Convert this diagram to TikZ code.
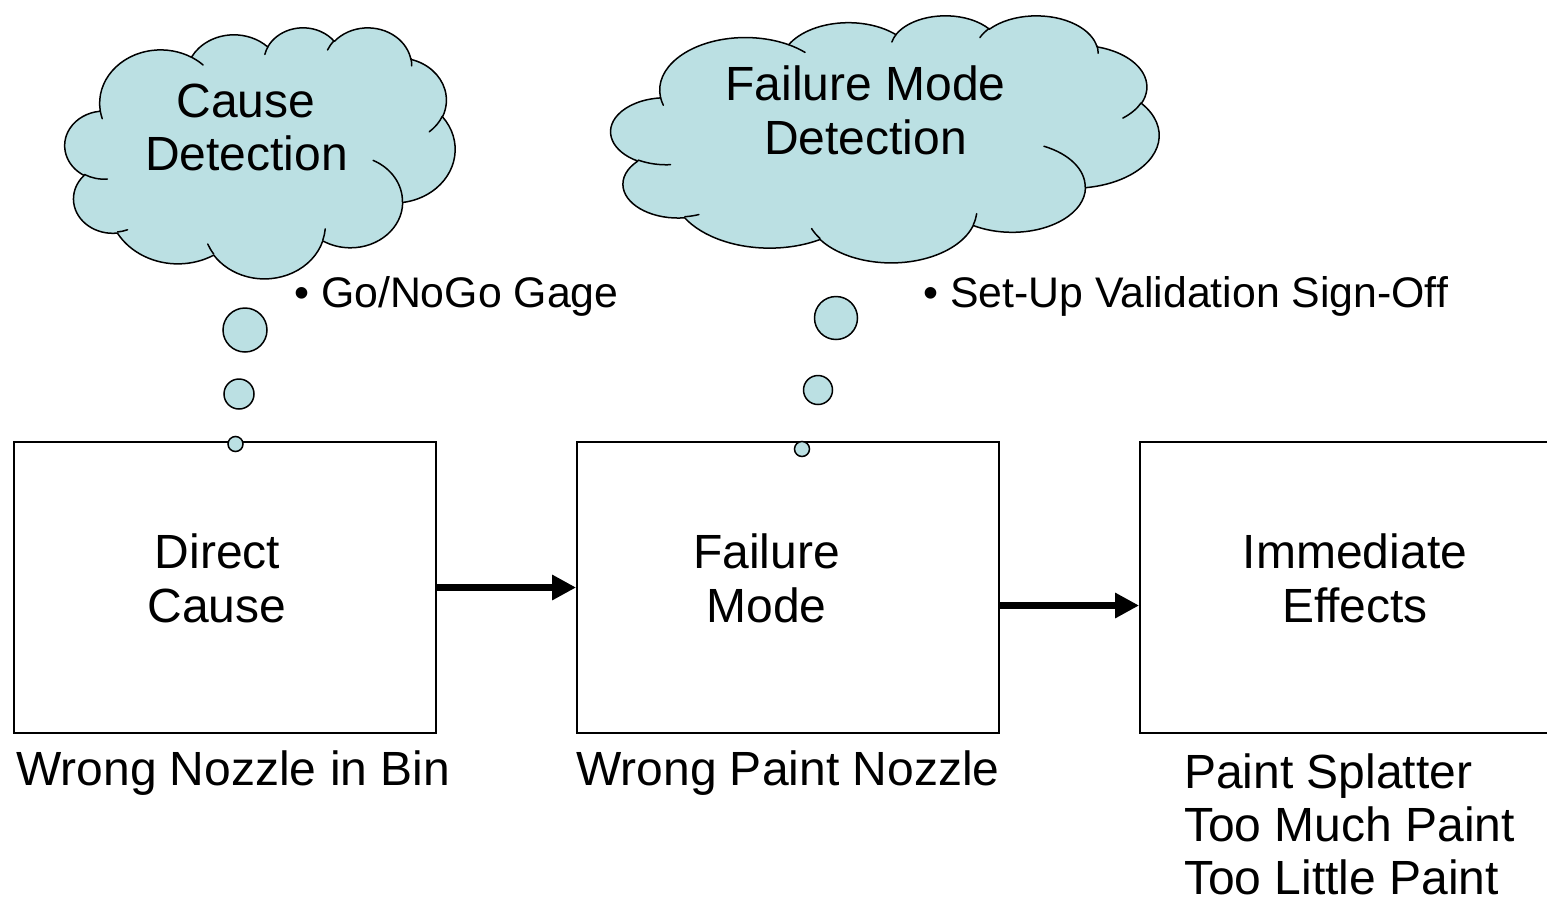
\documentclass[tikz,border=0pt]{standalone}
\usepackage{fontspec}
\setmainfont{Liberation Sans}
\usetikzlibrary{arrows.meta}
\definecolor{cloudfill}{RGB}{187,224,227}
% convert a DrawingML arcTo (geometric angles) into a TikZ arc (parametric angles)
\newcommand\ppcalc[4]{%
  \pgfmathsetmacro\ppTs{atan2((#1)*sin(#3),(#2)*cos(#3))}%
  \pgfmathsetmacro\ppTe{atan2((#1)*sin((#3)+(#4)),(#2)*cos((#3)+(#4)))}%
  \pgfmathsetmacro\ppTd{mod(\ppTe-\ppTs+720,360)}%
}
\newcommand\parc[4]{\pgfextra{\ppcalc{#1}{#2}{#3}{#4}} arc[x radius=#1, y radius=#2, start angle=\ppTs, delta angle=\ppTd]}
\newcommand\cloudouterpath{(39.00,143.70)
  \parc{67.53}{91.90}{-190.4875}{123.7805}
  \parc{53.33}{72.67}{-144.1024}{89.9452}
  \parc{43.65}{59.45}{-145.8079}{99.7230}
  \parc{48.57}{65.95}{-130.9861}{117.2417}
  \parc{53.33}{72.73}{-78.7089}{109.0269}
  \parc{67.75}{92.20}{-46.2673}{130.2690}
  \parc{57.85}{78.67}{0.6250}{114.0333}
  \parc{67.52}{92.15}{22.4516}{115.1726}
  \parc{77.20}{105.43}{66.2426}{75.7110}
  \parc{43.60}{59.18}{-274.9421}{146.7356}
  \parc{43.45}{59.45}{-246.8285}{152.5189}
  -- cycle}
\newcommand\cloudinnerpath{
  (46.93,261.77) \parc{43.45}{59.45}{86.7420}{26.4295}
  (69.28,348.99) \parc{43.60}{59.18}{73.6105}{11.4475}
  (164.78,390.90) \parc{67.52}{92.15}{137.6242}{14.0811}
  (288.27,347.51) \parc{67.52}{92.15}{6.4533}{15.9984}
  (341.29,229.54) \parc{57.85}{78.67}{-70.2924}{70.9174}
  (417.98,153.54) \parc{53.33}{72.73}{30.3180}{27.7515}
  (383.24,54.26) \parc{48.57}{65.95}{-13.7443}{14.8589}
  (290.78,39.52) \parc{48.57}{65.95}{-149.1815}{18.1954}
  (221.41,47.20) \parc{43.65}{59.45}{-163.4943}{17.6864}
  (140.00,51.92) \parc{67.53}{91.90}{-66.7070}{12.3194}
  (41.27,157.89) \parc{67.53}{91.90}{157.6544}{11.8582}}
\begin{document}
\begin{tikzpicture}[x=1pt,y=-1pt,
  cloudbody/.style={fill=cloudfill,draw=black,line width=1.5pt,line join=round},
  cloudline/.style={draw=black,line width=1.5pt,line cap=round},
  bubble/.style={circle,fill=cloudfill,draw=black,line width=1.5pt,inner sep=0pt},
  boxsty/.style={draw=black,line width=1.8pt,minimum width=422pt,minimum height=291pt,inner sep=0pt},
  bigtxt/.style={font=\fontsize{48}{55}\selectfont,inner sep=0pt,anchor=base},
  bigleft/.style={font=\fontsize{48}{55}\selectfont,inner sep=0pt,anchor=base west},
  bullettxt/.style={font=\fontsize{42.8}{50}\selectfont,inner sep=0pt,anchor=base west},
  flowarrow/.style={line width=7pt,-{Triangle[length=24pt,width=24pt]}}]
\useasboundingbox (0,0) rectangle (1547,900);
\clip (0,0) rectangle (1547,900);

% boxes
\node[boxsty] (cause) at (225,587.5) {};
\node[boxsty] (mode) at (788,587.5) {};
\node[boxsty] (effect) at (1351,587.5) {};

% box texts
\node[bigtxt] (t1a) at (217.5,568) {Direct};
\node[bigtxt] (t1b) at (217,622) {Cause};
\node[bigtxt] (t2a) at (766.5,568) {Failure};
\node[bigtxt] (t2b) at (766.5,622) {Mode};
\node[bigtxt] (t3a) at (1355,568) {Immediate};
\node[bigtxt] (t3b) at (1355,622) {Effects};

% labels under boxes
\node[bigleft] (l1) at (16,785) {Wrong Nozzle in Bin};
\node[bigleft] (l2) at (576,785) {Wrong Paint Nozzle};
\node[bigleft] (l3a) at (1184,788) {Paint Splatter};
\node[bigleft] (l3b) at (1184,841) {Too Much Paint};
\node[bigleft] (l3c) at (1184,894) {Too Little Paint};

% arrows
\draw[flowarrow] (cause.east) -- (mode.west);
\draw[flowarrow] ([yshift=-18pt]mode.east) -- ([yshift=-18pt]effect.west);

% cloud 1
\begin{scope}[shift={(65,27)},xscale=0.9028,yscale=0.5810]
  \draw[cloudbody] \cloudouterpath;
  \draw[cloudline] \cloudinnerpath;
\end{scope}
\node[bigtxt] (c1a) at (246,117) {Cause};
\node[bigtxt] (c1b) at (246.5,170) {Detection};
\node[bubble,minimum size=44pt] (b1a) at (245,330) {};
\node[bubble,minimum size=30pt] (b1b) at (239,394) {};
\node[bubble,minimum size=15pt] (b1c) at (235.5,444) {};

% cloud 2
\begin{scope}[shift={(611,15)},xscale=1.2685,yscale=0.5718]
  \draw[cloudbody] \cloudouterpath;
  \draw[cloudline] \cloudinnerpath;
\end{scope}
\node[bigtxt] (c2a) at (865.5,100) {Failure Mode};
\node[bigtxt] (c2b) at (865.5,154) {Detection};
\node[bubble,minimum size=43pt] (b2a) at (836,318) {};
\node[bubble,minimum size=29pt] (b2b) at (818,390) {};
\node[bubble,minimum size=15pt] (b2c) at (802,449) {};

% bullet texts
\node[bullettxt] (g1) at (294,307) {• Go/NoGo Gage};
\node[bullettxt] (g2) at (923,307) {• Set-Up Validation Sign-Off};
\end{tikzpicture}
\end{document}
